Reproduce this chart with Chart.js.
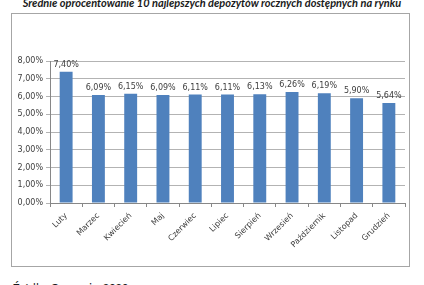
<!DOCTYPE html>
<html>
<head>
<meta charset="utf-8">
<script src="https://cdn.jsdelivr.net/npm/chart.js@4/dist/chart.umd.min.js"></script>
<style>
  html, body { margin: 0; padding: 0; background: #fff; }
  body { width: 424px; height: 285px; position: relative; overflow: hidden; }
  #title {
    position: absolute; left: 0; width: 424px; top: -4px;
    text-align: center; white-space: nowrap;
    font: italic bold 11px Lato, sans-serif; color: #1a1a1a;
  }
  #box {
    position: absolute; left: 11px; top: 13px; width: 397px; height: 252px;
    border: 1px solid #a6a6a6;
  }
  #source {
    position: absolute; left: 13px; top: 281px; white-space: nowrap;
    font: 11px Lato, sans-serif; color: #1a1a1a;
  }
</style>
</head>
<body>
<div id="title">Średnie oprocentowanie 10 najlepszych depozytów rocznych dostępnych na rynku</div>
<div id="box"><canvas id="chart" width="397" height="252"></canvas></div>
<div id="source">Źródło: Comperia, 2020 r.</div>
<script>
const months = ["Luty", "Marzec", "Kwiecień", "Maj", "Czerwiec", "Lipiec", "Sierpień", "Wrzesień", "Październik", "Listopad", "Grudzień"];
const rates = [7.40, 6.09, 6.15, 6.09, 6.11, 6.11, 6.13, 6.26, 6.19, 5.90, 5.64];
const yTicks = [0, 1, 2, 3, 4, 5, 6, 7, 8];

const fmt = (v) => v.toFixed(2).replace(".", ",") + "%";

// value labels above each bar
const valueLabels = {
  id: "valueLabels",
  afterDatasetsDraw(chart) {
    const ctx = chart.ctx;
    const meta = chart.getDatasetMeta(0);
    ctx.save();
    ctx.font = "8px 'DejaVu Sans'";
    ctx.fillStyle = "#404040";
    ctx.textAlign = "center";
    ctx.textBaseline = "bottom";
    meta.data.forEach((bar, i) => {
      ctx.fillText(fmt(rates[i]), bar.x, bar.y - 3);
    });
    ctx.restore();
  }
};

new Chart(document.getElementById("chart"), {
  type: "bar",
  data: {
    labels: months,
    datasets: [{
      data: rates,
      backgroundColor: "#4f81bd",
      borderWidth: 0,
      barPercentage: 0.4,
      categoryPercentage: 1
    }]
  },
  options: {
    responsive: false,
    animation: false,
    layout: { padding: { top: 47, right: 4, left: 0, bottom: 0 } },
    plugins: { legend: { display: false }, tooltip: { enabled: false } },
    scales: {
      x: {
        afterFit: (s) => { s.height = 63; },
        grid: { offset: true, drawOnChartArea: false, drawTicks: true, tickLength: 4, color: "#878787" },
        border: { color: "#878787" },
        ticks: {
          minRotation: 45, maxRotation: 45, padding: 4,
          font: { family: "DejaVu Sans", size: 8 }, color: "#404040"
        }
      },
      y: {
        min: 0, max: 8,
        afterFit: (s) => { s.width = 38; },
        afterBuildTicks: (s) => { s.ticks = yTicks.map(v => ({ value: v })); },
        grid: { color: "#b3b3b3", tickLength: 4 },
        border: { color: "#878787" },
        ticks: {
          padding: 3,
          callback: (v) => fmt(v),
          font: { family: "DejaVu Sans", size: 8 }, color: "#404040"
        }
      }
    }
  },
  plugins: [valueLabels]
});
</script>
</body>
</html>
